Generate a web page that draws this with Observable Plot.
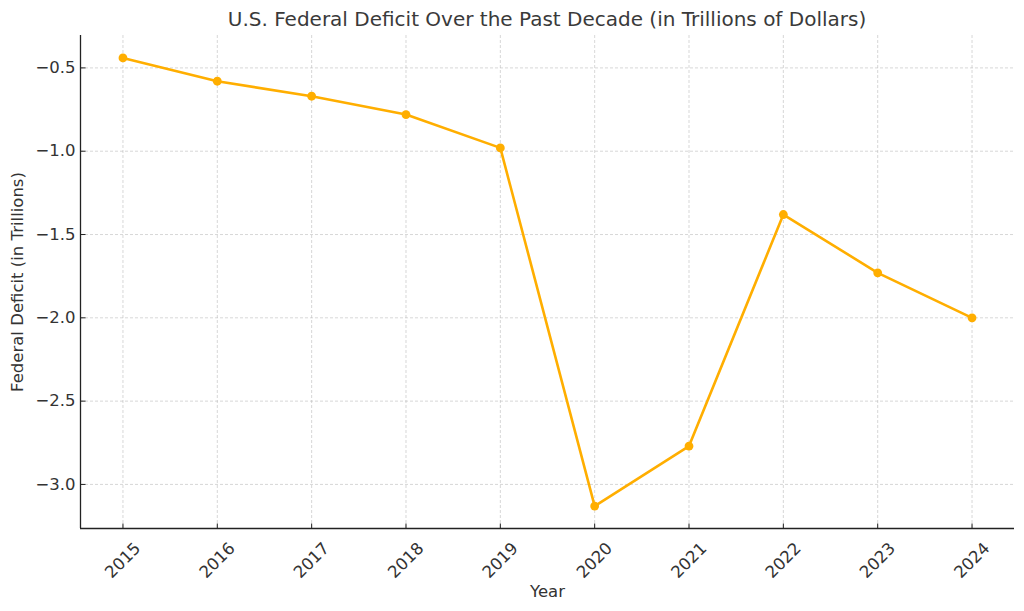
<!DOCTYPE html>
<html>
<head>
<meta charset="utf-8">
<script src="https://cdn.jsdelivr.net/npm/d3@7"></script>
<script src="https://cdn.jsdelivr.net/npm/@observablehq/plot@0.6"></script>
<style>
  html, body { margin: 0; padding: 0; background: #fff; }
  #title { height: 34px; line-height: 38px; padding-left: 80px; padding-right: 10px; text-align: center; font-family: "DejaVu Sans", sans-serif; font-size: 20px; color: #3a3a3a; white-space: nowrap; }
  svg { display: block; }
</style>
</head>
<body>
<div id="title">U.S. Federal Deficit Over the Past Decade (in Trillions of Dollars)</div>
<div id="chart"></div>
<script>
const years = [2015, 2016, 2017, 2018, 2019, 2020, 2021, 2022, 2023, 2024];
const deficits = [-0.44, -0.58, -0.67, -0.78, -0.98, -3.13, -2.77, -1.38, -1.73, -2.00];
const yTicks = [-3.0, -2.5, -2.0, -1.5, -1.0, -0.5];
const xLabel = "Year";
const yLabel = "Federal Deficit (in Trillions)";

const data = years.map((y, i) => ({year: y, value: deficits[i]}));
const lineColor = "#ffae00";
const textColor = "#333333";
const gridStyle = {stroke: "#b8b8b8", strokeOpacity: 0.7, strokeWidth: 0.8, strokeDasharray: "3,2"};
const fmt = d => d3.format(".1f")(d).replace("-", "\u2212");
const xMin = 2014.55, yMin = -3.2645;
const hTick = {draw(ctx) { ctx.moveTo(0, 0); ctx.lineTo(5, 0); }};
const vTick = {draw(ctx) { ctx.moveTo(0, 0); ctx.lineTo(0, -5); }};

const chart = Plot.plot({
  width: 1024,
  height: 577,
  marginLeft: 80,
  marginRight: 10,
  marginTop: 1,
  marginBottom: 83,
  style: {fontFamily: "DejaVu Sans, sans-serif", fontSize: "16px", color: textColor, background: "#fff"},
  x: {domain: [xMin, 2024.45], axis: null},
  y: {domain: [yMin, -0.3055]},
  marks: [
    Plot.gridX(years, gridStyle),
    Plot.gridY(yTicks, gridStyle),
    Plot.axisY(yTicks, {tickSize: 0, tickPadding: 5, tickFormat: fmt, label: null, fontSize: 16.5, fill: textColor}),
    Plot.dot(yTicks, {x: () => xMin, y: d => d, symbol: hTick, stroke: "#222", strokeWidth: 1, r: 3}),
    Plot.dot(years, {x: d => d, y: () => yMin, symbol: vTick, stroke: "#222", strokeWidth: 1, r: 3}),
    Plot.ruleX([xMin], {stroke: "#222", strokeWidth: 1.3}),
    Plot.ruleY([yMin], {stroke: "#222", strokeWidth: 1.3}),
    Plot.text(years, {x: d => d, frameAnchor: "bottom", dy: 32, rotate: -45, textAnchor: "middle", lineAnchor: "middle", text: d => String(d), fontSize: 16.5, fill: textColor}),
    Plot.text([xLabel], {frameAnchor: "bottom", dy: 63, text: d => d, fontSize: 16.5, fill: textColor, textAnchor: "middle", lineAnchor: "middle"}),
    Plot.text([yLabel], {frameAnchor: "left", dx: -63, rotate: -90, text: d => d, fontSize: 16.5, fill: textColor, textAnchor: "middle", lineAnchor: "middle"}),
    Plot.line(data, {x: "year", y: "value", stroke: lineColor, strokeWidth: 2.6}),
    Plot.dot(data, {x: "year", y: "value", fill: lineColor, r: 4.4, stroke: null})
  ]
});
document.getElementById("chart").appendChild(chart);
</script>
</body>
</html>
